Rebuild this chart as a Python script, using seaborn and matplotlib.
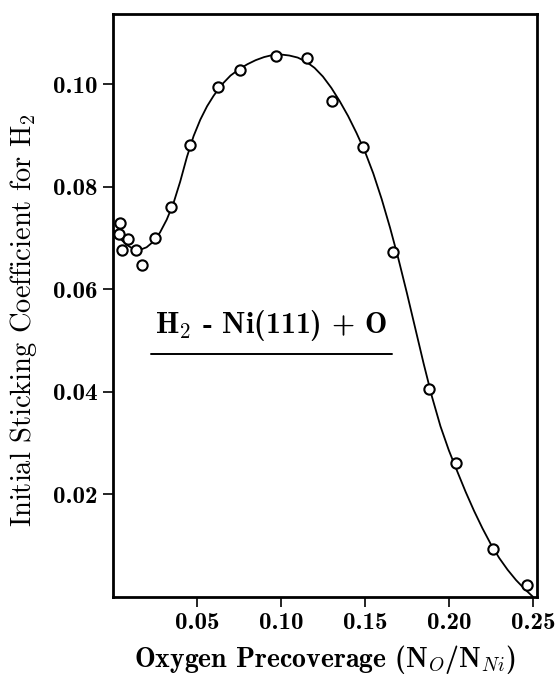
import matplotlib
matplotlib.use("Agg")
import matplotlib.pyplot as plt
import seaborn as sns

# measured points (oxygen precoverage, initial sticking coefficient)
coverage = [0.0039, 0.0033, 0.0089, 0.0053, 0.0138, 0.0172, 0.0251, 0.0346,
            0.0460, 0.0626, 0.0757, 0.0971, 0.1155, 0.1303, 0.1487, 0.1665,
            0.1879, 0.2045, 0.2264, 0.2463]
sticking = [0.0730, 0.0707, 0.0699, 0.0676, 0.0677, 0.0647, 0.0701, 0.0761,
            0.0882, 0.0994, 0.1028, 0.1056, 0.1052, 0.0968, 0.0878, 0.0673,
            0.0406, 0.0262, 0.0094, 0.0023]

# fitted curve
curve_x = [0.000, 0.004, 0.008, 0.012, 0.016, 0.020, 0.024, 0.028, 0.032,
           0.036, 0.040, 0.044, 0.048, 0.052, 0.056, 0.060, 0.065, 0.070,
           0.075, 0.080, 0.085, 0.090, 0.095, 0.100, 0.105, 0.110, 0.115,
           0.120, 0.125, 0.130, 0.135, 0.140, 0.145, 0.150, 0.155, 0.160,
           0.165, 0.170, 0.175, 0.180, 0.185, 0.190, 0.195, 0.200, 0.205,
           0.210, 0.215, 0.220, 0.225, 0.230, 0.235, 0.240, 0.245, 0.2502]
curve_y = [0.0716, 0.0700, 0.0687, 0.0679, 0.0677, 0.0682, 0.0693, 0.0711,
           0.0736, 0.0768, 0.0810, 0.0858, 0.0899, 0.0931, 0.0957, 0.0978,
           0.1000, 0.1017, 0.1029, 0.1039, 0.1047, 0.1053, 0.1057, 0.1058,
           0.1056, 0.1052, 0.1044, 0.1032, 0.1015, 0.0993, 0.0967, 0.0938,
           0.0905, 0.0869, 0.0826, 0.0776, 0.0720, 0.0659, 0.0593, 0.0524,
           0.0455, 0.0390, 0.0333, 0.0286, 0.0245, 0.0205, 0.0168, 0.0134,
           0.0103, 0.0076, 0.0053, 0.0033, 0.0016, 0.0000]

x_ticks = [0.05, 0.10, 0.15, 0.20, 0.25]
y_ticks = [0.02, 0.04, 0.06, 0.08, 0.10]
x_label = r"Oxygen Precoverage (N$_{\mathit{O}}$/N$_{\mathit{Ni}}$)"
y_label = r"Initial Sticking Coefficient for H$_2$"
annotation = r"H$_\mathbf{2}$ - Ni(111) + O"

sns.set_theme(style="ticks")
plt.rcParams["font.family"] = ["cmr10", "DejaVu Serif"]
plt.rcParams["mathtext.fontset"] = "cm"
plt.rcParams["axes.formatter.use_mathtext"] = True
plt.rcParams["axes.unicode_minus"] = False
for key in ["text.color", "axes.labelcolor", "xtick.color", "ytick.color",
            "xtick.labelcolor", "ytick.labelcolor"]:
    plt.rcParams[key] = "black"

fig = plt.figure(figsize=(5.57, 6.76), dpi=100)
ax = fig.add_axes([0.2029, 0.1169, 0.9641 - 0.2029, 0.9793 - 0.1169])

sns.lineplot(x=curve_x, y=curve_y, sort=False, color="black", linewidth=1.3, ax=ax)
sns.scatterplot(x=coverage, y=sticking, marker="o", s=55, facecolor="white",
                edgecolor="black", linewidth=1.5, zorder=5, ax=ax, clip_on=False)

ax.set_xlim(0, 0.2525)
ax.set_ylim(0, 0.1137)
ax.set_xticks(x_ticks)
ax.set_yticks(y_ticks)
ax.set_xticklabels([f"{v:.2f}" for v in x_ticks], family="cmb10", fontsize=18)
ax.set_yticklabels([f"{v:.2f}" for v in y_ticks], family="cmb10", fontsize=18)
ax.tick_params(axis="both", direction="out", length=7, width=1.2, color="black", pad=4)

for sp in ax.spines.values():
    sp.set_linewidth(2.0)
    sp.set_color("black")

ax.set_xlabel(x_label, family="cmb10", fontsize=20, labelpad=6)
ax.set_ylabel(y_label, family="cmr10", fontsize=20.5)
ax.yaxis.set_label_coords(-0.175, 0.475)

ax.text(0.094, 0.0529, annotation, family="cmb10", fontsize=21.5,
        ha="center", va="center")
ax.plot([0.0227, 0.1663], [0.0474, 0.0474], color="black", linewidth=1.4)

fig.savefig("out.png", dpi=100, facecolor="white")
